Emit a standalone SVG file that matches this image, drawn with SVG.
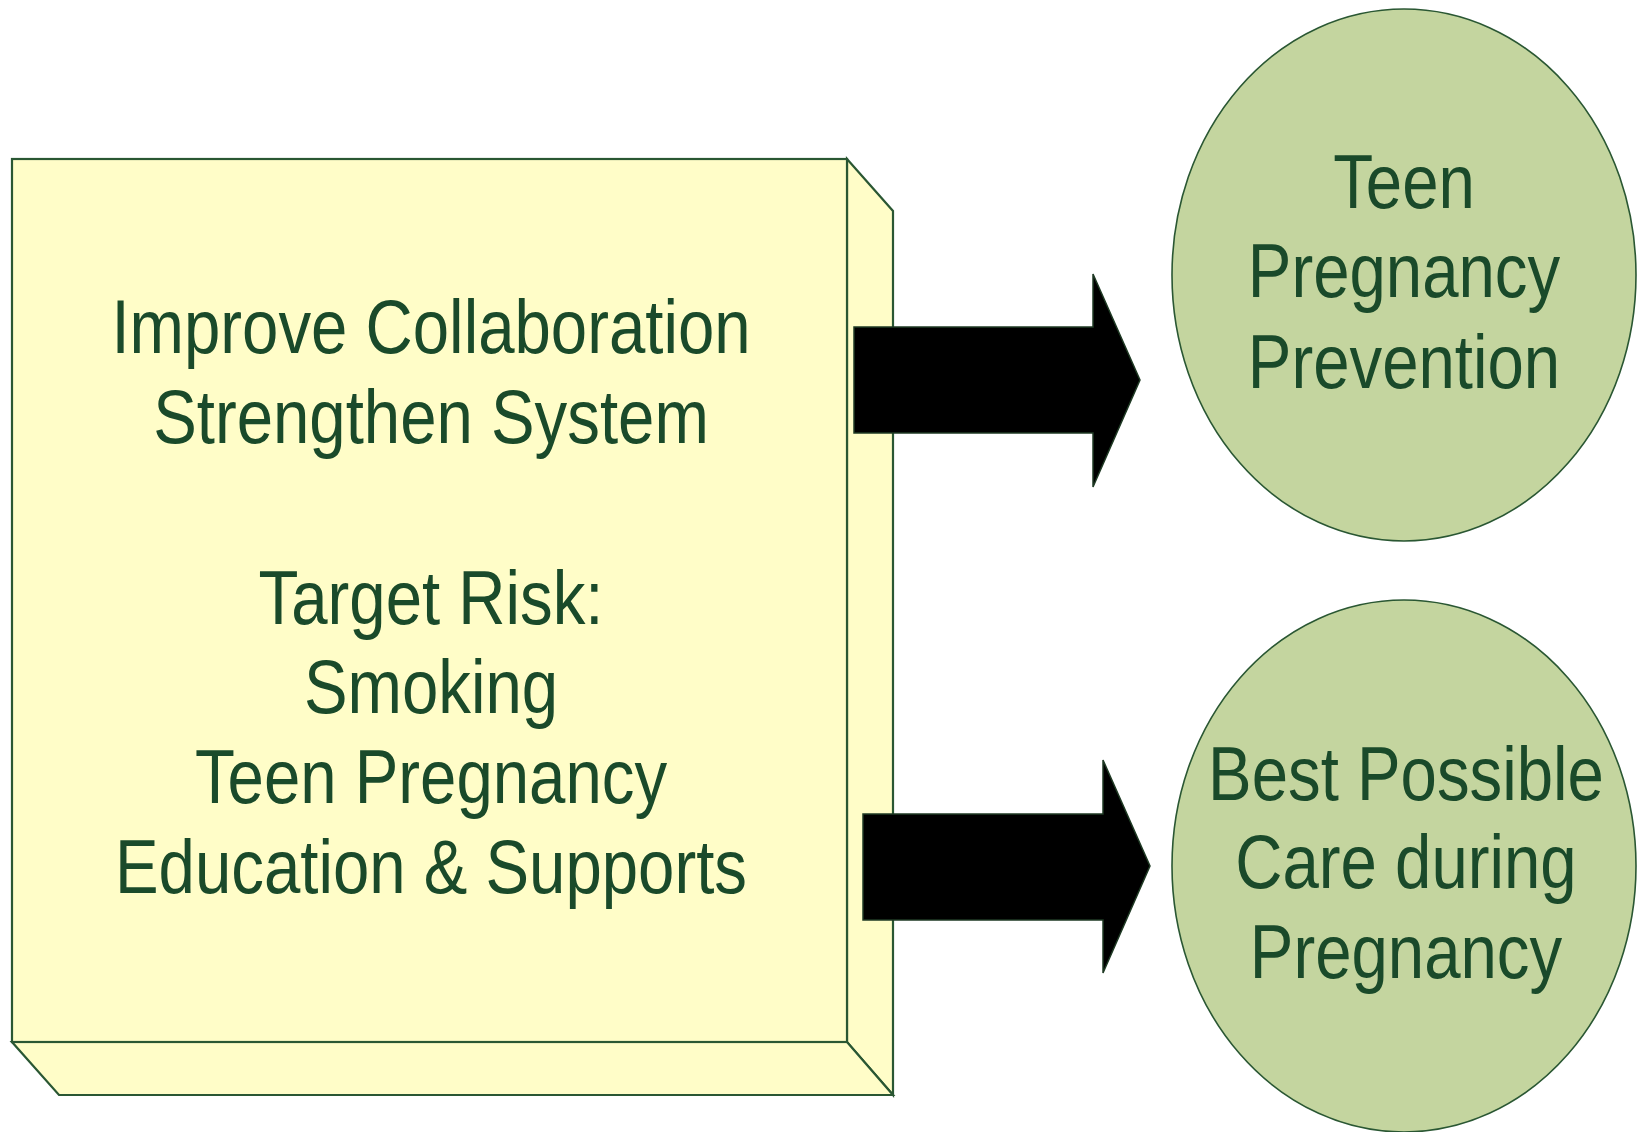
<svg xmlns="http://www.w3.org/2000/svg" width="1637" height="1132" viewBox="0 0 1637 1132">
  <style>
    .face { fill: #FFFDC8; stroke: #2A5733; stroke-width: 2.2; stroke-linejoin: miter; }
    .goal { fill: #C4D59F; stroke: #2A5733; stroke-width: 1.6; }
    .arrow { fill: #000000; stroke: #1F3A24; stroke-width: 1.5; stroke-linejoin: miter; }
    .label { font-family: "Liberation Sans", Arial, sans-serif; font-size: 76px; fill: #1A4A2A; text-anchor: middle; }
  </style>

  <rect width="1637" height="1132" fill="#FFFFFF"/>

  <!-- Strategy block: a box with visible right and bottom faces -->
  <g id="strategy-block">
    <polygon class="face" points="847,159 893,211 893,1095 847,1042"/>
    <polygon class="face" points="12,1042 847,1042 893,1095 59,1095"/>
    <rect class="face" x="12" y="159" width="835" height="883"/>
    <g transform="translate(431,0) scale(0.86,1)">
      <text class="label" x="0" y="353">Improve Collaboration</text>
      <text class="label" x="0" y="443">Strengthen System</text>
      <text class="label" x="0" y="624">Target Risk:</text>
      <text class="label" x="0" y="713">Smoking</text>
      <text class="label" x="0" y="803">Teen Pregnancy</text>
      <text class="label" x="0" y="893">Education &amp; Supports</text>
    </g>
  </g>

  <!-- Outcome: teen pregnancy prevention -->
  <g id="outcome-prevention">
    <ellipse class="goal" cx="1404" cy="275" rx="232" ry="266"/>
    <g transform="translate(1404,0) scale(0.86,1)">
      <text class="label" x="0" y="208">Teen</text>
      <text class="label" x="0" y="297">Pregnancy</text>
      <text class="label" x="0" y="388">Prevention</text>
    </g>
  </g>

  <!-- Outcome: care during pregnancy -->
  <g id="outcome-care">
    <ellipse class="goal" cx="1404" cy="866" rx="232" ry="266"/>
    <g transform="translate(1406,0) scale(0.86,1)">
      <text class="label" x="0" y="800">Best Possible</text>
      <text class="label" x="0" y="888">Care during</text>
      <text class="label" x="0" y="978">Pregnancy</text>
    </g>
  </g>

  <!-- Block arrows from the strategy block to each outcome -->
  <g id="connectors">
    <polygon class="arrow" points="854,327 1093,327 1093,274 1140,380 1093,487 1093,433 854,433"/>
    <polygon class="arrow" points="863,814 1103,814 1103,760 1150,866 1103,973 1103,920 863,920"/>
  </g>
</svg>
